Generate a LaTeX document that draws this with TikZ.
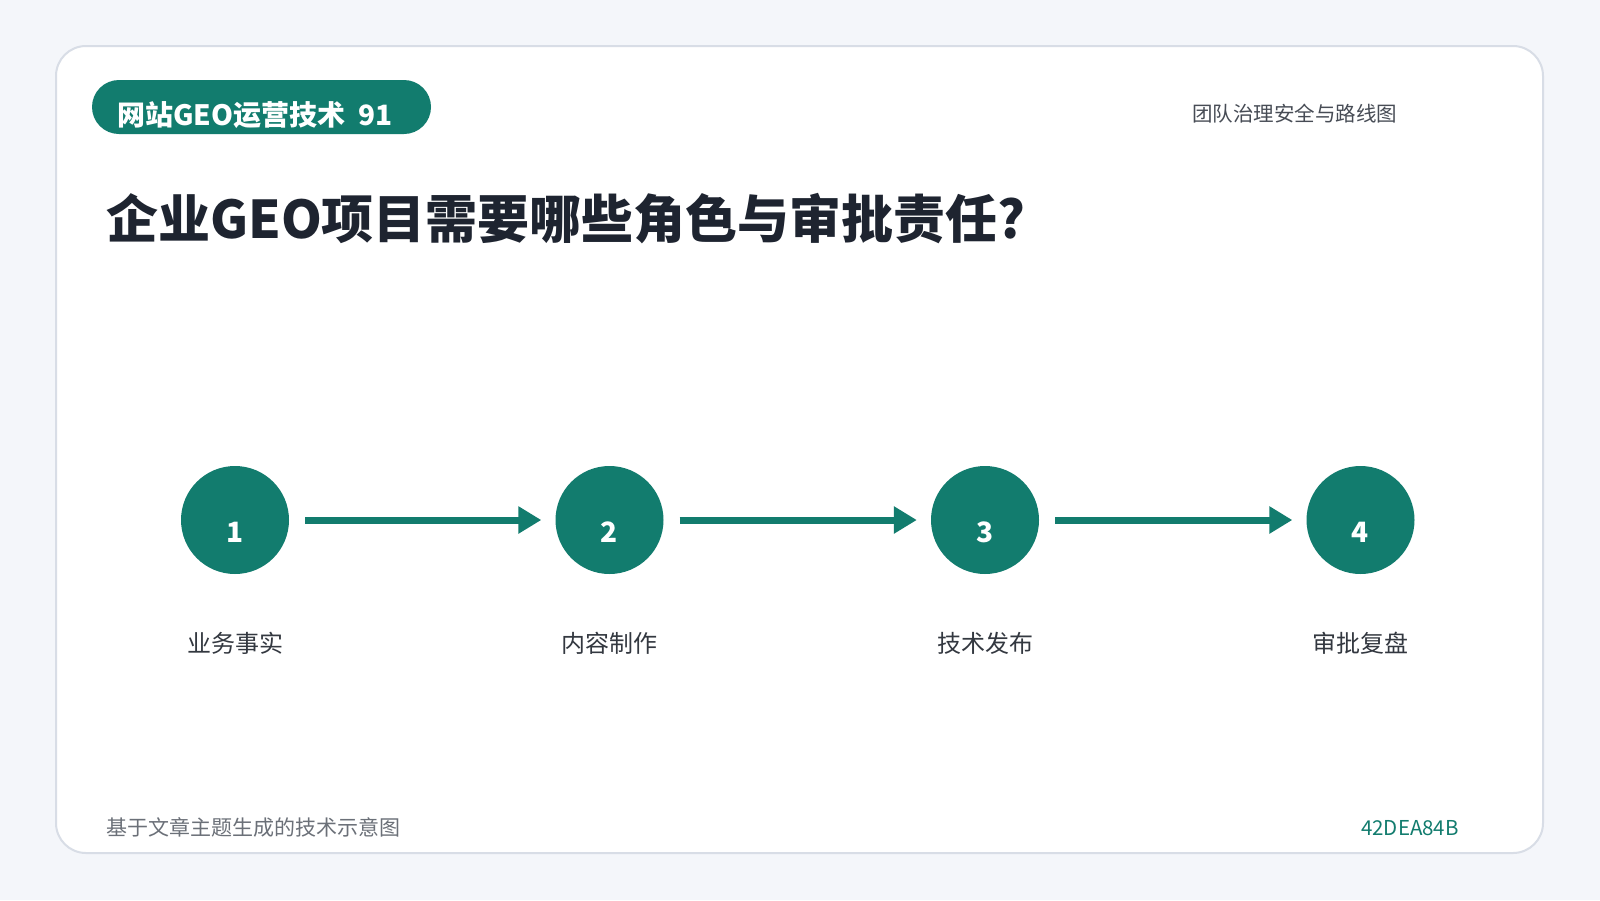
\documentclass[tikz,border=0pt]{standalone}
\usepackage{fontspec}
\setmainfont{Noto Sans CJK SC}
\usetikzlibrary{arrows.meta}
\definecolor{bgc}{HTML}{F4F6FA}
\definecolor{cardborder}{HTML}{D8DDE6}
\definecolor{teal}{HTML}{127C6E}
\definecolor{titlec}{HTML}{1E2430}
\definecolor{subc}{HTML}{474C55}
\definecolor{labelc}{HTML}{333840}
\definecolor{footc}{HTML}{6B7078}
\tikzset{
  stepcircle/.style={circle, fill=teal, minimum size=108pt, inner sep=0pt},
  numtext/.style={text=white, font=\fontsize{28}{32}\selectfont\bfseries, anchor=base, inner sep=0pt},
  labeltext/.style={text=labelc, font=\fontsize{24}{28}\selectfont, anchor=base, inner sep=0pt},
  flowarrow/.style={draw=teal, line width=7pt, -{Triangle[length=23pt,width=26pt]}, shorten <=16pt, shorten >=14pt},
}
\begin{document}
\begin{tikzpicture}[x=1pt,y=-1pt]
\useasboundingbox (0,0) rectangle (1600,900);
\fill[bgc] (0,0) rectangle (1600,900);
% card
\draw[cardborder, line width=2pt, fill=white, rounded corners=30pt] (56,46) rectangle (1543,853);
% badge
\node[fill=teal, rounded corners=27pt, minimum width=339pt, minimum height=54pt, inner sep=0pt] (badge) at (261.5,107) {};
\node[text=white, font=\fontsize{28}{32}\selectfont\bfseries, anchor=base west, inner sep=0pt] (badgetext) at (117,125) {网站GEO运营技术\ \ 91};
% top right
\node[text=subc, font=\fontsize{20.5}{24}\selectfont, anchor=base west, inner sep=0pt] (topright) at (1192,121) {团队治理安全与路线图};
% title
\node[text=titlec, font=\fontsize{52}{60}\selectfont\bfseries, anchor=base west, inner sep=0pt] (title) at (106,238) {企业GEO项目需要哪些角色与审批责任?};
% steps
\node[stepcircle] (c1) at (235,520) {};
\node[stepcircle] (c2) at (609.5,520) {};
\node[stepcircle] (c3) at (985,520) {};
\node[stepcircle] (c4) at (1360.5,520) {};
\node[numtext] (n1) at (235,542) {1};
\node[numtext] (n2) at (609.5,542) {2};
\node[numtext] (n3) at (985,542) {3};
\node[numtext] (n4) at (1360.5,542) {4};
\draw[flowarrow] (c1) -- (c2);
\draw[flowarrow] (c2) -- (c3);
\draw[flowarrow] (c3) -- (c4);
\node[labeltext] (l1) at (235,652) {业务事实};
\node[labeltext] (l2) at (609.5,652) {内容制作};
\node[labeltext] (l3) at (985,652) {技术发布};
\node[labeltext] (l4) at (1360.5,652) {审批复盘};
% footer
\node[text=footc, font=\fontsize{21}{24}\selectfont, anchor=base west, inner sep=0pt] (footl) at (106,835) {基于文章主题生成的技术示意图};
\node[text=teal, font=\fontsize{20.5}{24}\selectfont, anchor=base east, inner sep=0pt] (footr) at (1459,835) {42DEA84B};
\end{tikzpicture}
\end{document}
